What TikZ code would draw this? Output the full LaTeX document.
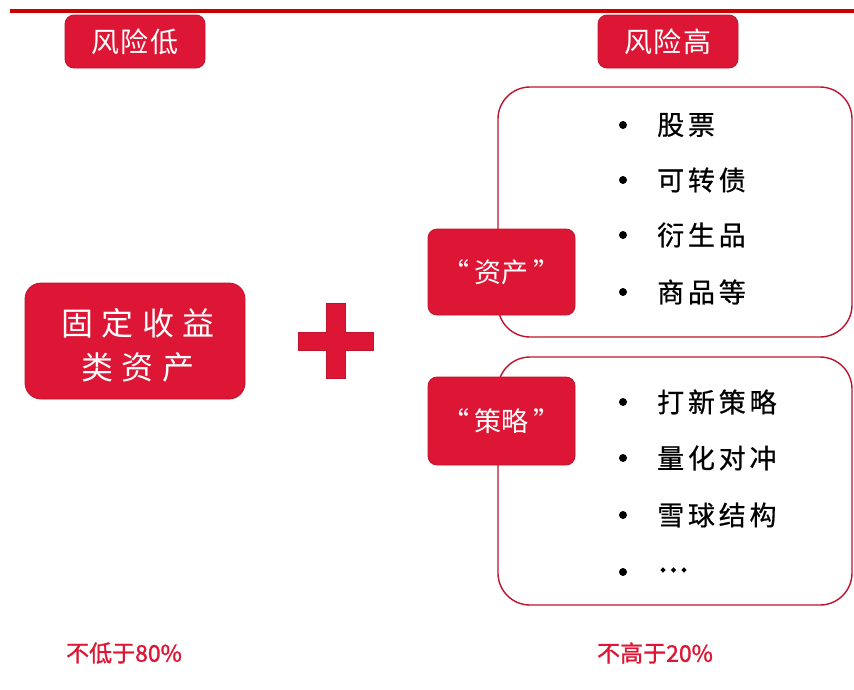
\documentclass[tikz,border=0pt]{standalone}
\usepackage{fontspec}
\setmainfont{Noto Sans CJK SC}
\newfontfamily\cjk{Noto Sans CJK SC}
\newfontfamily\cjkhead[LetterSpace=6]{Noto Sans CJK SC}
\newfontfamily\cjkitem[LetterSpace=14,FakeBold=0.6]{Noto Sans CJK SC}
\newfontfamily\cjkwide[LetterSpace=26]{Noto Sans CJK SC}
\newfontfamily\cjkpct[FakeBold=1.2]{Noto Sans CJK SC}
\newfontfamily\cjkdots[FakeBold=4]{Noto Sans CJK SC}
\definecolor{crim}{RGB}{220,22,52}
\definecolor{crimedge}{RGB}{190,20,45}
\definecolor{topline}{RGB}{204,0,0}
\tikzset{
  redbox/.style={fill=crim, draw=crimedge, line width=0.8pt, rounded corners=9pt,
    text=white, inner sep=0pt},
  listbox/.style={draw=crimedge, line width=1.4pt, rounded corners=32pt, fill=white},
  itemtext/.style={anchor=west, inner sep=0pt, font=\cjkitem\fontsize{27}{30}\selectfont, text=black},
  bulletdot/.style={circle, fill=black, inner sep=0pt, minimum size=8pt},
  pcttext/.style={text=crim, inner sep=0pt, font=\cjkpct\fontsize{23}{26}\selectfont}
}
\begin{document}
\begin{tikzpicture}[x=1pt,y=-1pt]
\useasboundingbox (0,0) rectangle (854,689);
% top rule
\coordinate (ruleL) at (10,11);
\coordinate (ruleR) at (854,11);
\draw[topline, line width=4pt] (ruleL) -- (ruleR);

% headers
\node[redbox, minimum width=140pt, minimum height=53pt, font=\cjkhead\fontsize{28}{30}\selectfont] (low) at (135,41.5) {风险低};
\node[redbox, minimum width=140pt, minimum height=53pt, font=\cjkhead\fontsize{28}{30}\selectfont] (high) at (668,41.5) {风险高};

% fixed income box
\node[redbox, rounded corners=16pt, minimum width=220pt, minimum height=116pt] (fixed) at (135,341) {};
\node[text=white, inner sep=0pt, font=\cjkwide\fontsize{32}{34}\selectfont] (fixed1) at (138,323) {固定收益};
\node[text=white, inner sep=0pt, font=\cjkwide\fontsize{32}{34}\selectfont] (fixed2) at (138,367) {类资产};

% plus sign
\draw[fill=crim, draw=crimedge, line width=0.8pt]
  (326,303) -- (345,303) -- (345,332) -- (373,332) -- (373,350) -- (345,350)
  -- (345,378) -- (326,378) -- (326,350) -- (298,350) -- (298,332) -- (326,332) -- cycle;

% list boxes
\node[listbox, minimum width=354pt, minimum height=250pt] (assetlist) at (675,212) {};
\node[listbox, minimum width=354pt, minimum height=248pt] (stratlist) at (675,481) {};

% label boxes
\node[redbox, minimum width=147pt, minimum height=86pt, font=\cjk\fontsize{27}{30}\selectfont] (asset) at (501.5,272) {“\hspace{5pt}资产\hspace{5pt}”};
\node[redbox, minimum width=147pt, minimum height=88pt, font=\cjk\fontsize{27}{30}\selectfont] (strat) at (501.5,421) {“\hspace{5pt}策略\hspace{5pt}”};

% asset items
\node[bulletdot] (b1) at (623,125) {};
\node[itemtext] (i1) at (657,125) {股票};
\node[bulletdot] (b2) at (623,180) {};
\node[itemtext] (i2) at (657,180) {可转债};
\node[bulletdot] (b3) at (623,235) {};
\node[itemtext] (i3) at (657,235) {衍生品};
\node[bulletdot] (b4) at (623,292) {};
\node[itemtext] (i4) at (657,292) {商品等};

% strategy items
\node[bulletdot] (s1) at (623,402) {};
\node[itemtext] (j1) at (657,402) {打新策略};
\node[bulletdot] (s2) at (623,458) {};
\node[itemtext] (j2) at (657,458) {量化对冲};
\node[bulletdot] (s3) at (623,515) {};
\node[itemtext] (j3) at (657,515) {雪球结构};
\node[bulletdot] (s4) at (623,572) {};
\node[anchor=west, inner sep=0pt, font=\cjkdots\fontsize{28}{30}\selectfont] (j4) at (658,570) {…};

% percentages
\node[pcttext] (pctlow) at (124,653) {不低于80\%};
\node[pcttext] (pcthigh) at (655,653) {不高于20\%};
\end{tikzpicture}
\end{document}
